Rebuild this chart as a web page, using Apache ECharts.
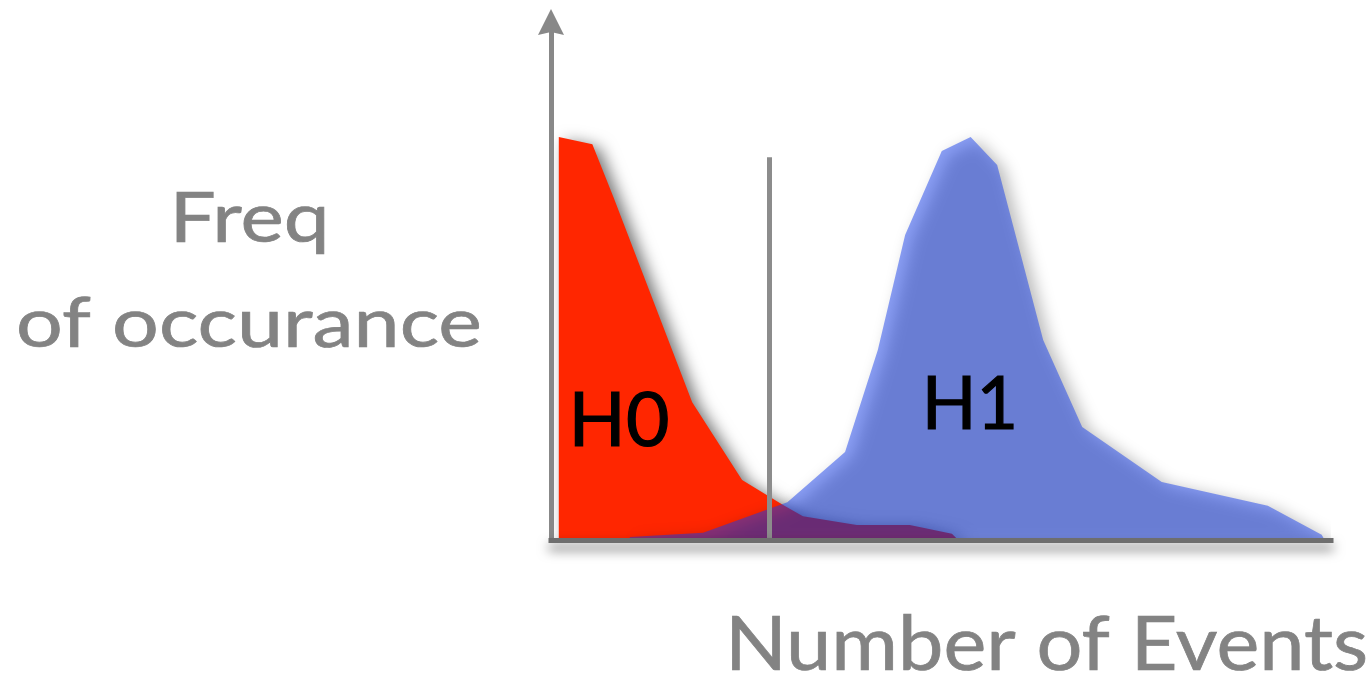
<!DOCTYPE html>
<html>
<head>
<meta charset="utf-8">
<title>H0 vs H1</title>
<script src="https://cdn.jsdelivr.net/npm/echarts@6/dist/echarts.min.js"></script>
<style>
  html, body { margin: 0; padding: 0; background: #ffffff; }
  #chart { width: 1372px; height: 675px; }
</style>
</head>
<body>
<div id="chart"></div>
<script>
// Null hypothesis distribution: [number of events, frequency]
const h0Points = [
  [1.0, 77.8], [5.3, 76.4], [8.0, 66.2], [18.1, 26.6], [24.5, 11.6],
  [29.7, 6.8], [32.3, 4.6], [39.2, 2.9], [46.0, 2.9], [51.4, 1.2], [52.2, 0]
];
// Alternative hypothesis distribution
const h1Points = [
  [10.1, 0.6], [19.5, 1.4], [30.3, 7.3], [37.7, 17.0], [41.9, 36.7],
  [45.4, 58.9], [50.1, 75.1], [53.8, 77.8], [57.2, 72.4], [63.1, 38.6],
  [68.1, 21.8], [78.3, 11.2], [91.9, 6.6], [98.8, 1.0], [99.2, 0]
];
// Decision threshold on the event count, and how tall its marker stands
const threshold = 28.0;
const thresholdTop = 73.9;

const seriesNames = ['H0', 'H1'];
const yTitleLines = ['Freq', 'of occurance'];
const xTitle = 'Number of Events';

const chart = echarts.init(document.getElementById('chart'), null, { renderer: 'canvas' });
const font = '"Lato", "Noto Sans", sans-serif';
const grey = '#838383';

// Wide, medium-weight lettering: Lato stretched around its centre and slightly thickened
function label(text, x, y, size, color, stretch, weight) {
  return {
    type: 'text', z: 10, x: x, y: y, scaleX: stretch, scaleY: 1,
    style: {
      text: text, x: 0, y: 0, font: size + 'px ' + font, fill: color,
      stroke: color, lineWidth: weight, lineJoin: 'round',
      align: 'center', verticalAlign: 'middle'
    }
  };
}

chart.setOption({
  animation: false,
  backgroundColor: '#ffffff',
  grid: { left: 551, right: 41, top: 22, bottom: 135, containLabel: false },
  xAxis: {
    type: 'value', min: 0, max: 100, z: 6,
    axisLine: {
      show: true, onZero: false,
      lineStyle: {
        color: '#6e6e6e', width: 5, cap: 'square',
        shadowColor: 'rgba(0,0,0,0.6)', shadowBlur: 12, shadowOffsetY: 7
      }
    },
    axisTick: { show: false }, axisLabel: { show: false }, splitLine: { show: false }
  },
  yAxis: {
    type: 'value', min: 0, max: 100, z: 6,
    axisLine: {
      show: true, onZero: false,
      symbol: ['none', 'path://M0,0L13,26L0,23L-13,26Z'],
      symbolSize: [26, 26],
      lineStyle: { color: '#888888', width: 5 }
    },
    axisTick: { show: false }, axisLabel: { show: false }, splitLine: { show: false }
  },
  series: [
    {
      name: seriesNames[0], type: 'line', data: h0Points,
      showSymbol: false, symbol: 'none', silent: true,
      lineStyle: { width: 0 },
      areaStyle: {
        color: '#ff2600', opacity: 1,
        shadowColor: 'rgba(0,0,0,0.55)', shadowBlur: 16, shadowOffsetX: 7, shadowOffsetY: 4
      },
      markLine: {
        silent: true, symbol: ['none', 'none'], label: { show: false },
        lineStyle: { color: '#8c8c8c', width: 5, type: 'solid' },
        data: [[{ coord: [threshold, 0] }, { coord: [threshold, thresholdTop] }]]
      }
    },
    {
      name: seriesNames[1], type: 'line', data: h1Points,
      showSymbol: false, symbol: 'none', silent: true,
      lineStyle: { width: 0 },
      areaStyle: {
        color: 'rgba(21,62,236,0.49)', opacity: 1,
        shadowColor: 'rgba(0,0,0,0.55)', shadowBlur: 16, shadowOffsetX: 7, shadowOffsetY: 4
      }
    }
  ],
  graphic: [
    label(yTitleLines[0], 249.5, 219, 70, grey, 1.17, 0.7),
    label(yTitleLines[1], 249, 324, 70, grey, 1.18, 0.7),
    label(xTitle, 1046.5, 645, 76, grey, 1.067, 0.7),
    label(seriesNames[0], 619, 422, 75, '#000000', 1.0, 1.2),
    label(seriesNames[1], 970, 405, 74, '#000000', 0.97, 1.2)
  ]
});
</script>
</body>
</html>
